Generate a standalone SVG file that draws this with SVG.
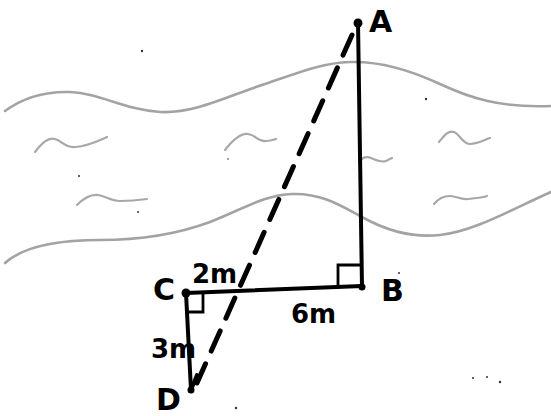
<svg xmlns="http://www.w3.org/2000/svg" width="551" height="416" viewBox="0 0 551 416">
<style>
.river{fill:none;stroke:#a3a3a3;stroke-width:2.6;stroke-linecap:round}
.ripple{fill:none;stroke:#a8a8a8;stroke-width:2.2;stroke-linecap:round}
.line{fill:none;stroke:#000;stroke-width:4;stroke-linecap:round;stroke-linejoin:round}
.dash{fill:none;stroke:#000;stroke-width:5;stroke-dasharray:22 14;stroke-linecap:round}
.mark{fill:none;stroke:#000;stroke-width:2.8}
.lbl{font-family:"DejaVu Sans","Liberation Sans",sans-serif;font-size:30px;font-weight:bold;fill:#000}
.dim{font-family:"DejaVu Sans","Liberation Sans",sans-serif;font-size:26px;font-weight:bold;fill:#000}
.speck{fill:#333}
</style>
<rect width="551" height="416" fill="#fff"/>
<g id="river">
<path class="river" d="M5,111 C20,100 40,91 70,92 C100,93 125,110 160,112 C195,114 230,95 265,84 C295,74 320,63 350,62 C380,61 410,70 440,84 C470,98 500,108 551,106"/>
<path class="river" d="M5,263 C25,245 60,240 100,240 C140,240 175,235 210,222 C245,208 265,195 292,194 C320,193 340,205 360,216 C385,230 410,238 440,235 C475,231 510,210 551,192"/>
<path class="ripple" d="M35,152 C42,143 48,137 55,139 C62,141 65,148 75,147 C88,146 98,141 107,137"/>
<path class="ripple" d="M225,150 C232,141 240,133 248,134 C256,135 258,142 266,141 C270,141 273,140 276,139"/>
<path class="ripple" d="M359,162 C362,158 366,156 371,158 C376,160 380,163 386,161 L392,158"/>
<path class="ripple" d="M439,142 C444,136 448,130 454,132 C460,134 462,144 470,144 C478,144 484,140 490,138"/>
<path class="ripple" d="M77,205 C83,199 90,194 98,195 C106,196 110,201 120,201 C130,201 140,200 147,199"/>
<path class="ripple" d="M434,204 C438,199 443,196 450,196 C457,196 460,200 468,199 C475,198 482,198 487,196"/>
</g>
<g id="specks">
<circle class="speck" cx="142" cy="51" r="1.2"/>
<circle class="speck" cx="426" cy="99" r="1.2"/>
<circle class="speck" cx="79" cy="176" r="1"/>
<circle class="speck" cx="138" cy="212" r="1"/>
<circle class="speck" cx="228" cy="159" r="0.8"/>
<circle class="speck" cx="399" cy="273" r="1"/>
<circle class="speck" cx="473" cy="378" r="1"/>
<circle class="speck" cx="487" cy="377" r="1"/>
<circle class="speck" cx="500" cy="382" r="1.2"/>
<circle class="speck" cx="236" cy="408" r="1.2"/>
</g>
<g id="connectors">
<path class="line" d="M358,22 L362,287"/>
<path class="line" d="M186,293 L362,286"/>
<path class="line" d="M186,293 L191,390"/>
<path class="dash" d="M352,35 L197,383"/>
<path class="line" d="M197,375 L191,390"/>
<path class="mark" d="M360,265 H338 V286"/>
<path class="mark" d="M189,312 H203 V294"/>
</g>
<g id="node-A">
<circle cx="358" cy="23" r="4.5" fill="#000"/>
<text class="lbl" x="369" y="32">A</text>
</g>
<g id="node-B">
<circle cx="362" cy="287" r="3.5" fill="#000"/>
<text class="lbl" x="381" y="301">B</text>
</g>
<g id="node-C">
<circle cx="186" cy="293" r="4.5" fill="#000"/>
<text class="lbl" x="153" y="300">C</text>
</g>
<g id="node-D">
<circle cx="191" cy="390" r="3.5" fill="#000"/>
<text class="lbl" x="156" y="410">D</text>
</g>
<g id="labels">
<text class="dim" x="192" y="283">2m</text>
<text class="dim" x="291" y="323">6m</text>
<text class="dim" x="151" y="358">3m</text>
</g>
</svg>
